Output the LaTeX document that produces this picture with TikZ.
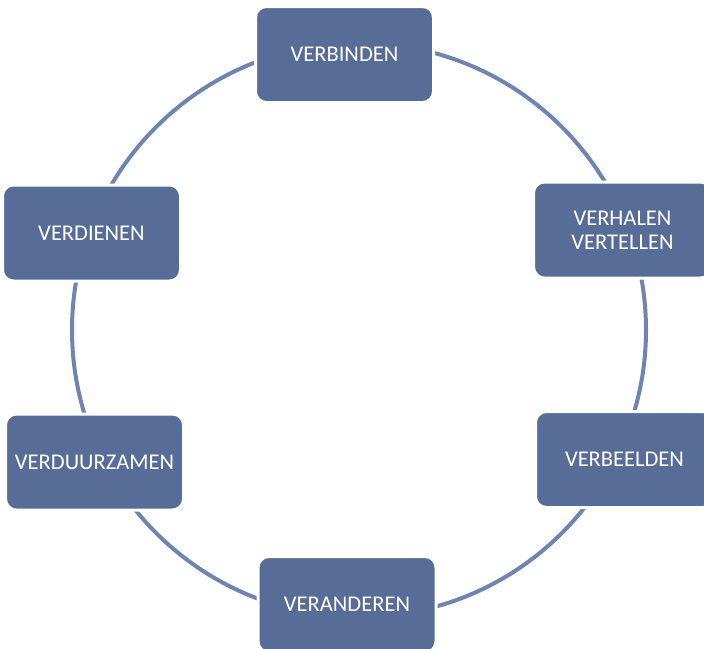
\documentclass[tikz,border=0pt]{standalone}
\usepackage{fontspec}
\setmainfont{Carlito}
\definecolor{vakblauw}{RGB}{88,108,152}
\definecolor{ringblauw}{RGB}{110,132,178}
\newcommand{\fase}[4]{\node[fase] (#1) at ( #2 , #3 ) {#4};}

\begin{document}
\begin{tikzpicture}[x=1pt,y=-1pt,
    fase/.style={rectangle,rounded corners=11pt,fill=vakblauw,draw=white,line width=3pt,
      minimum width=178pt,minimum height=96pt,inner sep=0pt,
      text=white,align=center,font=\fontsize{22.5}{24}\selectfont}]
        \useasboundingbox (0,0) rectangle (704,648);

        % ring
        \draw[ringblauw,line width=4pt] (359,330) circle (287);

        % fasen
        \fase{verbinden}{344.5}{54.5}{VERBINDEN}
        \fase{verhalen}{622.5}{230}{VERHALEN\\VERTELLEN}
        \fase{verbeelden}{624.5}{459.5}{VERBEELDEN}
        \fase{veranderen}{347}{604.5}{VERANDEREN}
        \fase{verduurzamen}{94.5}{462}{VERDUURZAMEN}
        \fase{verdienen}{91.5}{233}{VERDIENEN}
\end{tikzpicture}
\end{document}
